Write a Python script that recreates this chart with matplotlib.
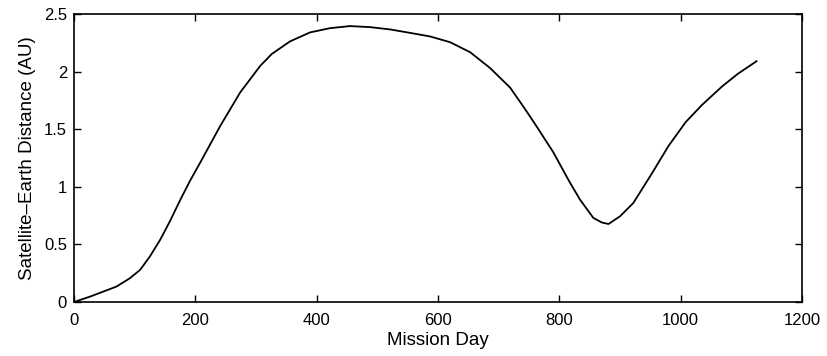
import matplotlib.pyplot as plt

plt.rc('font', family=['Liberation Sans', 'DejaVu Sans'], size=12)

# mission day vs satellite-earth distance (AU)
day = [0, 26, 48, 70, 92, 109, 125, 142, 158, 175, 191, 208, 241, 274, 307,
       326, 356, 389, 422, 455, 488, 521, 554, 587, 620, 653, 686, 719, 746,
       763, 790, 816, 834, 856, 870, 881, 900, 922, 953, 980, 1008, 1035,
       1068, 1094, 1125]
dist = [0.0, 0.046, 0.09, 0.134, 0.206, 0.279, 0.395, 0.54, 0.70, 0.885,
        1.05, 1.21, 1.528, 1.82, 2.05, 2.153, 2.262, 2.34, 2.377, 2.395,
        2.386, 2.366, 2.336, 2.305, 2.255, 2.168, 2.03, 1.86, 1.655, 1.52,
        1.30, 1.05, 0.889, 0.73, 0.69, 0.677, 0.744, 0.86, 1.12, 1.355, 1.56,
        1.71, 1.87, 1.98, 2.09]

xticks = [0, 200, 400, 600, 800, 1000, 1200]
yticks = [0, 0.5, 1, 1.5, 2, 2.5]
ytick_labels = ['0', '0.5', '1', '1.5', '2', '2.5']

fig = plt.figure(figsize=(8.27, 3.56), dpi=100)
ax = fig.add_axes([0.0895, 0.1517, 0.8803, 0.809])
ax.plot(day, dist, color='black', lw=1.3)

ax.set_xlim(0, 1200)
ax.set_ylim(0, 2.5)
ax.set_xticks(xticks)
ax.set_yticks(yticks)
ax.set_yticklabels(ytick_labels)
ax.tick_params(direction='in', top=True, right=True, length=5, width=1)
ax.tick_params(axis='x', pad=8)
ax.tick_params(axis='y', pad=5)
for s in ax.spines.values():
    s.set_linewidth(1.2)

ax.set_xlabel('Mission Day', fontsize=13.5, labelpad=3)
ax.set_ylabel('Satellite\u2013Earth Distance (AU)', fontsize=13.5, labelpad=6)

fig.savefig('out.png', dpi=100)
